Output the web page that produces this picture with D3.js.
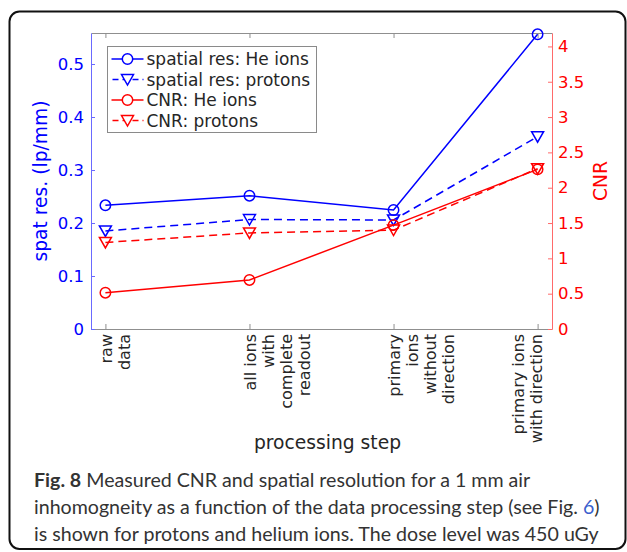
<!DOCTYPE html>
<html>
<head>
<meta charset="utf-8">
<script src="https://cdn.jsdelivr.net/npm/d3@7"></script>
<style>
  body { margin: 0; background: #fff; }
  svg { display: block; }
  text { font-family: "DejaVu Sans", sans-serif; }
</style>
</head>
<body>
<script>
// processing steps (x categories) and their tick labels, one entry per line
var steps = [1, 2, 3, 4];
var stepLabels = [
  ["raw", "data"],
  ["all ions", "with", "complete", "readout"],
  ["primary", "ions", "without", "direction"],
  ["primary ions", "with direction"]
];

var spatHe      = [0.2334, 0.2515, 0.2245, 0.556];
var spatProtons = [0.185, 0.2066, 0.2057, 0.3628];
var cnrHe       = [0.514, 0.694, 1.47, 2.26];
var cnrProtons  = [1.225, 1.36, 1.40, 2.27];

var leftTicks  = [0, 0.1, 0.2, 0.3, 0.4, 0.5];
var rightTicks = [0, 0.5, 1, 1.5, 2, 2.5, 3, 3.5, 4];
var seriesNames = ["spatial res: He ions", "spatial res: protons", "CNR: He ions", "CNR: protons"];

var captionLines = [
  [{t: "Fig. 8", bold: true}, {t: " Measured CNR and spatial resolution for a 1 mm air"}],
  [{t: "inhomogneity as a function of the data processing step (see Fig. "}, {t: "6", link: true}, {t: ")"}],
  [{t: "is shown for protons and helium ions. The dose level was 450 uGy"}]
];

var W = 627, H = 552;
var blue = "#0000ff", red = "#ff0000", axGrey = "#8f8f8f", ink = "#262626";

var svg = d3.select("body").append("svg")
  .attr("width", W)
  .attr("height", H);

// frame round the figure + caption
svg.append("rect")
  .attr("x", 9.5).attr("y", 11.5)
  .attr("width", 616).attr("height", 537.5)
  .attr("rx", 10)
  .attr("fill", "none")
  .attr("stroke", "#111")
  .attr("stroke-width", 2);

// scales
var x = d3.scaleLinear().domain([0.9, 4.1]).range([91, 552]);
var yL = d3.scaleLinear().domain([0, 0.5585]).range([329, 33]);
var yR = d3.scaleLinear().domain([0, 4.19]).range([329, 33]);

function styleAxis(g, col, fs) {
  g.attr("font-family", null).attr("font-size", null);
  g.select(".domain").attr("stroke", col);
  g.selectAll(".tick line").attr("stroke", col);
  g.selectAll(".tick text").attr("fill", col === axGrey ? ink : col).style("font-size", fs + "px");
}

// top and bottom axes (ticks inward, grey)
var gTop = svg.append("g").attr("transform", "translate(0,33)")
  .call(d3.axisTop(x).tickValues(steps).tickSizeInner(-5).tickSizeOuter(0).tickFormat(""));
styleAxis(gTop, axGrey, 16);
var gBot = svg.append("g").attr("transform", "translate(0,329)")
  .call(d3.axisBottom(x).tickValues(steps).tickSizeInner(-5).tickSizeOuter(0).tickFormat(""));
styleAxis(gBot, axGrey, 16);

// left (spatial resolution) axis
var gL = svg.append("g").attr("transform", "translate(91,0)")
  .call(d3.axisLeft(yL).tickValues(leftTicks).tickSizeInner(-4).tickSizeOuter(0).tickPadding(7)
    .tickFormat(function(d) { return String(d); }));
styleAxis(gL, blue, 16.5);
gL.select(".domain").attr("stroke", "#6a6aff");
gL.selectAll(".tick line").attr("stroke", "#6a6aff");

// right (CNR) axis
var gR = svg.append("g").attr("transform", "translate(552,0)")
  .call(d3.axisRight(yR).tickValues(rightTicks).tickSizeInner(-4).tickSizeOuter(0).tickPadding(6)
    .tickFormat(function(d) { return String(d); }));
styleAxis(gR, red, 16.5);
gR.select(".domain").attr("stroke", "#ff6a6a");
gR.selectAll(".tick line").attr("stroke", "#ff6a6a");

// x tick labels, rotated, several lines each
var fsX = 16, lh = 18;
steps.forEach(function(s, i) {
  // the last label sits one line further left in the original
  var shift = (i === steps.length - 1) ? -14 : 6.5;
  var g = svg.append("g")
    .attr("transform", "translate(" + x(s) + ",334) rotate(-90)");
  g.selectAll("text").data(stepLabels[i]).enter().append("text")
    .attr("x", 0)
    .attr("y", function(d, j) { return shift + j * lh; })
    .attr("text-anchor", "end")
    .attr("fill", ink)
    .style("font-size", fsX + "px")
    .text(function(d) { return d; });
});

// axis titles
svg.append("text")
  .attr("transform", "translate(" + ((x.range()[0] + x.range()[1]) / 2 + 6) + ",449)")
  .attr("text-anchor", "middle")
  .attr("fill", ink)
  .style("font-size", "18.7px")
  .text("processing step");

svg.append("text")
  .attr("transform", "translate(47,181) rotate(-90)")
  .attr("text-anchor", "middle")
  .attr("fill", blue)
  .style("font-size", "18.7px")
  .text("spat res. (lp/mm)");

svg.append("text")
  .attr("transform", "translate(607,181) rotate(-90)")
  .attr("text-anchor", "middle")
  .attr("fill", red)
  .style("font-size", "18.7px")
  .text("CNR");

// series
var triPath = "M-6,-5H6L0,5.5Z";
var series = [
  {values: spatHe, y: yL, color: blue, dash: null, marker: "o"},
  {values: spatProtons, y: yL, color: blue, dash: "8,5", marker: "v"},
  {values: cnrHe, y: yR, color: red, dash: null, marker: "o"},
  {values: cnrProtons, y: yR, color: red, dash: "8,5", marker: "v"}
];

series.forEach(function(s) {
  var line = d3.line()
    .x(function(d, i) { return x(steps[i]); })
    .y(function(d) { return s.y(d); });
  svg.append("path")
    .datum(s.values)
    .attr("d", line)
    .attr("fill", "none")
    .attr("stroke", s.color)
    .attr("stroke-width", 1.5)
    .attr("stroke-dasharray", s.dash);

  var m = svg.append("g").selectAll(".m").data(s.values).enter();
  if (s.marker === "o") {
    m.append("circle")
      .attr("cx", function(d, i) { return x(steps[i]); })
      .attr("cy", function(d) { return s.y(d); })
      .attr("r", 5.2)
      .attr("fill", "none")
      .attr("stroke", s.color)
      .attr("stroke-width", 1.5);
  } else {
    m.append("path")
      .attr("d", triPath)
      .attr("transform", function(d, i) { return "translate(" + x(steps[i]) + "," + s.y(d) + ")"; })
      .attr("fill", "none")
      .attr("stroke", s.color)
      .attr("stroke-width", 1.5);
  }
});

// legend
var leg = svg.append("g");
leg.append("rect")
  .attr("x", 107.5).attr("y", 46.5)
  .attr("width", 209).attr("height", 86)
  .attr("fill", "#fff")
  .attr("stroke", "#8a8a8a");
series.forEach(function(s, i) {
  var yy = 59 + i * 20.5;
  leg.append("line")
    .attr("x1", 111.5).attr("x2", 143.5)
    .attr("y1", yy).attr("y2", yy)
    .attr("stroke", s.color)
    .attr("stroke-width", 1.5)
    .attr("stroke-dasharray", s.dash ? "6,4" : null)
    .attr("stroke-dashoffset", s.dash ? -1 : null);
  if (s.marker === "o") {
    leg.append("circle").attr("cx", 127.5).attr("cy", yy).attr("r", 5.2)
      .attr("fill", "#fff").attr("stroke", s.color).attr("stroke-width", 1.5);
  } else {
    leg.append("path").attr("d", triPath).attr("transform", "translate(127.5," + yy + ")")
      .attr("fill", "#fff").attr("stroke", s.color).attr("stroke-width", 1.5);
  }
  leg.append("text")
    .attr("x", 146.5).attr("y", yy)
    .attr("dy", "0.36em")
    .attr("fill", ink)
    .style("font-size", "17px")
    .text(seriesNames[i]);
});

// caption
var cap = svg.append("g");
var capTexts = captionLines.map(function(parts, i) {
  var t = cap.append("text")
    .attr("x", 0).attr("y", 0)
    .attr("fill", "#333")
    .style("font-family", "Lato, 'Open Sans', sans-serif")
    .style("font-size", "19.5px");
  parts.forEach(function(p) {
    t.append("tspan")
      .attr("font-weight", p.bold ? "bold" : null)
      .attr("fill", p.link ? "#3a5fcd" : null)
      .text(p.t);
  });
  return t;
});
// squeeze horizontally so line 2 spans the measured width
var sx = (600 - 34) / capTexts[1].node().getBBox().width;
capTexts.forEach(function(t, i) {
  t.attr("transform", "translate(34," + (487 + i * 27) + ") scale(" + sx + ",1)");
});
</script>
</body>
</html>
